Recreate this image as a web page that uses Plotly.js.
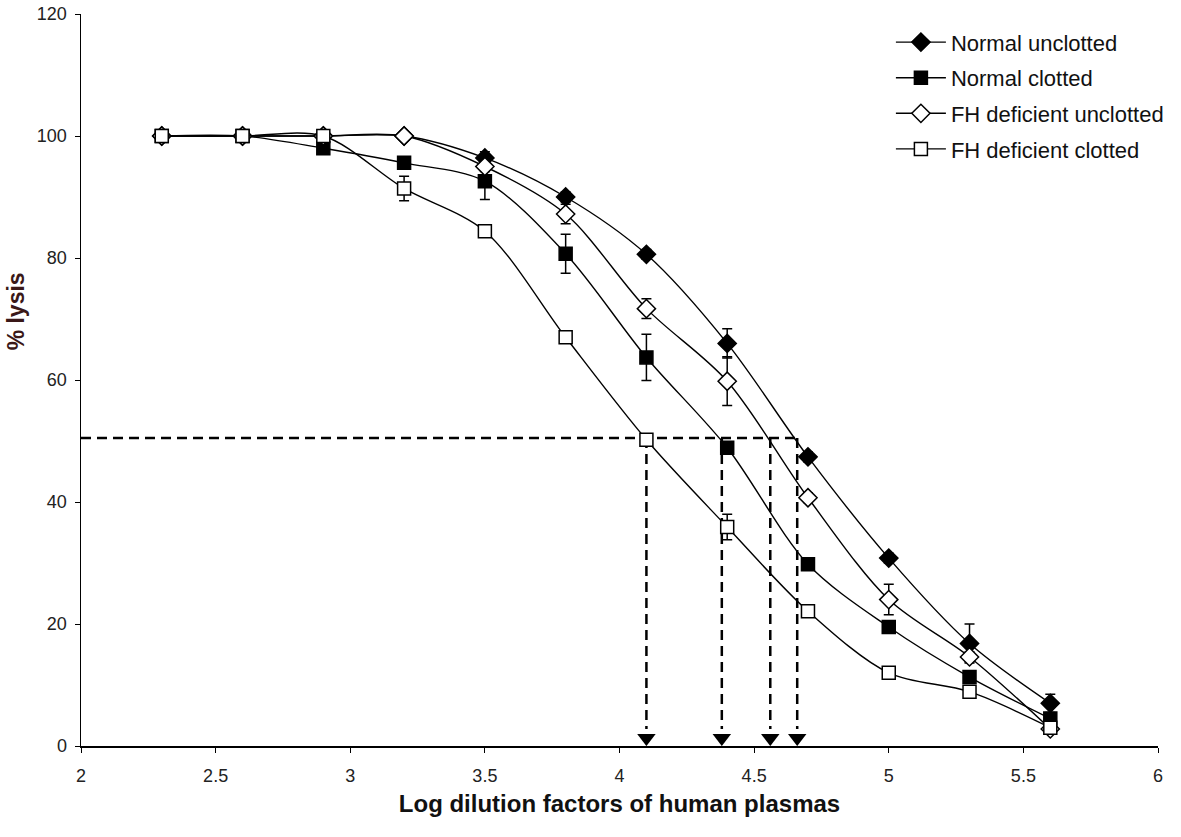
<!DOCTYPE html>
<html>
<head>
<meta charset="utf-8">
<script src="https://cdn.plot.ly/plotly-3.0.1.min.js"></script>
<style>
  html, body { margin: 0; padding: 0; background: #fff; }
  #chart { width: 1181px; height: 837px; }
</style>
</head>
<body>
<div id="chart"></div>
<script>
// log dilution factor of plasma (1/200 ... 1/409600)
const logDilution = [2.3, 2.6, 2.9, 3.2, 3.5, 3.8, 4.1, 4.4, 4.7, 5.0, 5.3, 5.6];

const normalUnclotted    = [100, 100, 100, 100, 96.4, 90.0, 80.6, 66.0, 47.4, 30.8, 16.8, 7.0];
const normalUnclottedErr = [0.5, 0.5, 0.5, 0.5, 1.0, 0.8, 0.8, 2.4, 0.8, 0.8, 3.2, 1.5];

const normalClotted    = [100, 100, 98.0, 95.6, 92.6, 80.7, 63.7, 48.9, 29.8, 19.5, 11.3, 4.5];
const normalClottedErr = [0.5, 0.5, 0.8, 0.8, 3.0, 3.2, 3.8, 0.8, 0.6, 0.6, 0.8, 0.5];

const fhUnclotted    = [100, 100, 100, 100, 95.0, 87.2, 71.7, 59.8, 40.7, 24.0, 14.6, 2.8];
const fhUnclottedErr = [0.5, 0.5, 0.5, 0.5, 0.8, 1.6, 1.6, 4.0, 0.8, 2.5, 0.8, 0.5];

const fhClotted    = [100, 100, 100, 91.4, 84.4, 67.0, 50.2, 35.9, 22.1, 12.0, 8.9, 3.0];
const fhClottedErr = [0.5, 0.5, 1.0, 2.0, 0.6, 0.6, 0.5, 2.1, 0.5, 0.5, 0.5, 0.5];

// 50% lysis read-off
const halfLysis = 50.5;
const halfLysisDilution = [4.1, 4.38, 4.56, 4.66];
const arrowLevel = 1.3;

const seriesNames = ['Normal unclotted', 'Normal clotted', 'FH deficient unclotted', 'FH deficient clotted'];

const font = '"Liberation Sans", Arial, sans-serif';

function series(name, y, err, symbol, size, fill) {
    return {
        x: logDilution,
        y: y,
        name: name,
        legendgroup: name,
        mode: 'lines+markers',
        line: { color: '#000', width: 1.4, shape: 'spline', smoothing: 0.9 },
        marker: { symbol: symbol, size: size, color: fill, line: { color: '#000', width: 1.5 } },
        error_y: { type: 'data', array: err, visible: true, color: '#000', thickness: 1.5, width: 5 }
    };
}

let data = [];

// dashed guide lines (drawn first so the curves sit on top)
data.push({
    x: [2, halfLysisDilution[halfLysisDilution.length - 1]],
    y: [halfLysis, halfLysis],
    mode: 'lines',
    line: { color: '#000', width: 2.5, dash: '10px,6px' },
    showlegend: false,
    hoverinfo: 'skip'
});
halfLysisDilution.forEach(function (d) {
    data.push({
        x: [d, d],
        y: [halfLysis, arrowLevel + 1.5],
        mode: 'lines',
        line: { color: '#000', width: 2.5, dash: '10px,6px' },
        showlegend: false,
        hoverinfo: 'skip'
    });
});
data.push({
    x: halfLysisDilution,
    y: halfLysisDilution.map(function () { return arrowLevel; }),
    mode: 'markers',
    marker: { symbol: 'triangle-down', size: 16, color: '#000' },
    showlegend: false,
    hoverinfo: 'skip'
});

data.push(series(seriesNames[0], normalUnclotted, normalUnclottedErr, 'diamond', 14, '#000'));
data.push(series(seriesNames[1], normalClotted, normalClottedErr, 'square', 13, '#000'));
data.push(series(seriesNames[2], fhUnclotted, fhUnclottedErr, 'diamond', 14, '#fff'));
data.push(series(seriesNames[3], fhClotted, fhClottedErr, 'square', 13, '#fff'));

let layout = {
    width: 1181,
    height: 837,
    margin: { l: 81, r: 21, t: 14, b: 91 },
    paper_bgcolor: '#fff',
    plot_bgcolor: '#fff',
    font: { family: font, color: '#222', size: 18 },
    showlegend: true,
    legend: {
        x: 0.752, y: 0.99, xanchor: 'left', yanchor: 'top',
        font: { family: font, size: 22, color: '#111' },
        itemwidth: 50,
        tracegroupgap: 4,
        bgcolor: 'rgba(0,0,0,0)'
    },
    xaxis: {
        range: [2, 6],
        dtick: 0.5,
        tick0: 2,
        showgrid: false,
        zeroline: false,
        showline: true,
        linecolor: '#000',
        linewidth: 1.5,
        ticks: 'outside',
        ticklen: 5,
        tickcolor: '#000',
        ticklabelstandoff: 8,
        tickfont: { family: font, size: 18, color: '#222' },
        title: { text: 'Log dilution factors of human plasmas', standoff: 10,
                 font: { family: font, size: 24, color: '#111', weight: 'bold' } }
    },
    yaxis: {
        range: [0, 120],
        dtick: 20,
        showgrid: false,
        zeroline: false,
        showline: true,
        linecolor: '#000',
        linewidth: 1.5,
        ticks: 'outside',
        ticklen: 5,
        tickcolor: '#000',
        ticklabelstandoff: 4,
        tickfont: { family: font, size: 18, color: '#222' }
    },
    annotations: [
        {
            text: '% lysis',
            xref: 'paper', yref: 'paper',
            x: -0.0602, y: 0.594,
            xanchor: 'center', yanchor: 'middle',
            textangle: -90,
            showarrow: false,
            font: { family: font, size: 23, color: '#3a1818', weight: 'bold' }
        }
    ]
};

Plotly.newPlot('chart', data, layout, { displayModeBar: false, staticPlot: true });
</script>
</body>
</html>
